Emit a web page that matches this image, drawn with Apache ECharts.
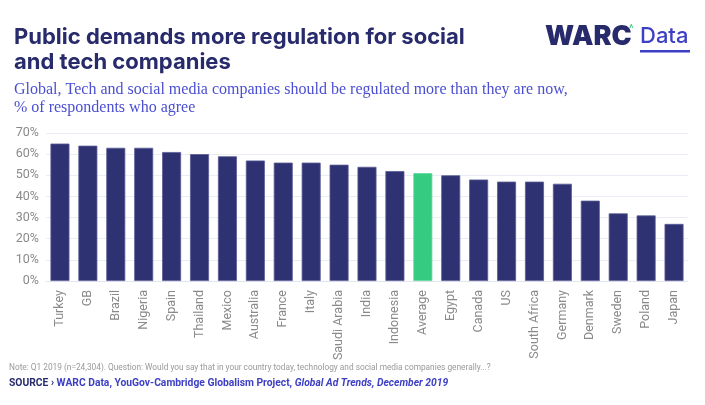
<!DOCTYPE html>
<html>
<head>
<meta charset="utf-8">
<script src="https://cdn.jsdelivr.net/npm/echarts@6/dist/echarts.min.js"></script>
<style>
html, body { margin: 0; padding: 0; background: #fff; }
#main { width: 705px; height: 405px; }
</style>
</head>
<body>
<div id="main"></div>
<script>
// countries, sorted by share who agree
var countries = ['Turkey', 'GB', 'Brazil', 'Nigeria', 'Spain', 'Thailand', 'Mexico', 'Australia',
	'France', 'Italy', 'Saudi Arabia', 'India', 'Indonesia', 'Average', 'Egypt', 'Canada', 'US',
	'South Africa', 'Germany', 'Denmark', 'Sweden', 'Poland', 'Japan'];
// % of respondents who agree
var agree = [65, 64, 63, 63, 61, 60, 59, 57, 56, 56, 55, 54, 52, 51, 50, 48, 47, 47, 46, 38, 32, 31, 27];
var yTicks = [0, 10, 20, 30, 40, 50, 60, 70];

var chart = echarts.init(document.getElementById('main'));

// average bar is green, the rest navy
var barData = [];
for (var i = 0; i < countries.length; i++) {
	barData.push({
		value: agree[i],
		itemStyle: countries[i] === 'Average' ? { color: '#35cc82', borderColor: '#5bd89a' } : null
	});
}

var option = {
	backgroundColor: '#fff',
	textStyle: { fontFamily: 'Roboto, sans-serif' },
	title: [{
		text: 'Public demands more regulation for social\nand tech companies',
		left: 9, top: 20,
		textStyle: { color: '#272a6b', fontSize: 22, fontWeight: 'bold', lineHeight: 25, fontFamily: 'Inter' }
	}, {
		text: 'Global, Tech and social media companies should be regulated more than they are now,\n% of respondents who agree',
		left: 9, top: 76,
		textStyle: { color: '#4b4fd1', fontSize: 16, fontWeight: 'normal', lineHeight: 18, fontFamily: 'Liberation Serif' }
	}],
	graphic: [
		{ type: 'text', left: 545, top: 23, style: { text: 'WARC', fill: '#272a6b', font: '900 27px Inter' } },
		{ type: 'text', left: 629, top: 24, style: { text: '^', fill: '#35cc82', font: '11px Roboto' } },
		{ type: 'text', left: 640, top: 25, style: { text: 'Data', fill: '#3d3fc4', font: '500 22px Inter' } },
		{ type: 'rect', left: 640, top: 50, shape: { width: 50, height: 2.5 }, style: { fill: '#3d3fc4' } },
		{
			type: 'text', left: 9, top: 364,
			style: {
				text: 'Note: Q1 2019 (n=24,304). Question: Would you say that in your country today, technology and social media companies generally...?',
				fill: '#999', font: '8.3px Roboto'
			}
		},
		{
			type: 'text', left: 9, top: 378,
			style: {
				text: '{a|SOURCE \u203a }{b|WARC Data, YouGov-Cambridge Globalism Project, }{c|Global Ad Trends, December 2019}',
				rich: {
					a: { fill: '#272a6b', font: 'bold 10.3px Roboto' },
					b: { fill: '#3d3fc4', font: 'bold 10.3px Roboto' },
					c: { fill: '#3d3fc4', font: 'italic bold 10.3px Roboto' }
				}
			}
		}
	],
	grid: { left: 46, right: 17, top: 133, bottom: 124 },
	xAxis: {
		type: 'category',
		data: countries,
		axisLine: { lineStyle: { color: '#e4e4f2' } },
		axisTick: { show: false },
		axisLabel: { rotate: 90, color: '#8a8a8a', fontSize: 12.5, margin: 9 }
	},
	yAxis: {
		type: 'value',
		min: yTicks[0], max: yTicks[yTicks.length - 1], interval: 10,
		axisLine: { show: false },
		axisTick: { show: false },
		splitLine: { lineStyle: { color: '#ececf6' } },
		axisLabel: { formatter: '{value}%', color: '#8a8a8a', fontSize: 12.5, margin: 7 }
	},
	series: [{
		type: 'bar',
		data: barData,
		barCategoryGap: '32%',
		itemStyle: { color: '#2e3172', borderColor: '#5a5d96', borderWidth: 0.8 }
	}]
};
chart.setOption(option);
</script>
</body>
</html>
